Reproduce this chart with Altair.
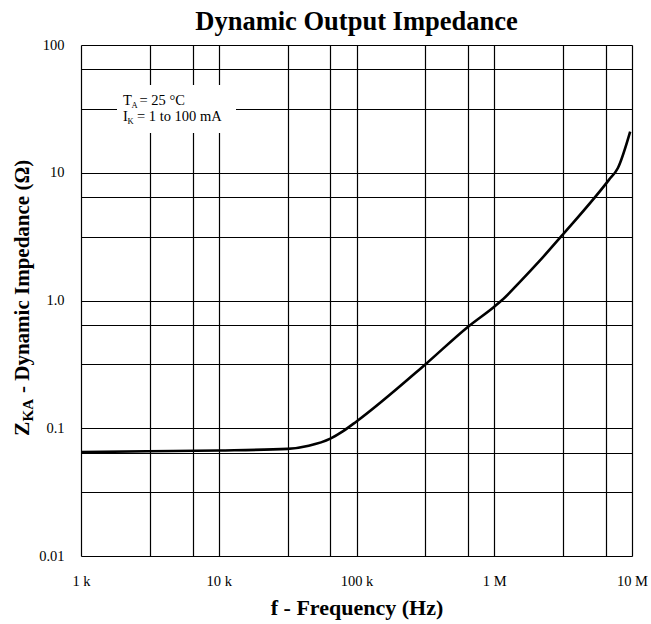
import altair as alt
import pandas as pd

# ---- data ----
freq_hz = [1e3, 3e3, 1e4, 3.16e4, 4.5e4, 6.46e4, 8e4, 1e5, 3.16e5, 6.46e5,
           1.0e6, 1.13e6, 1.58e6, 2.15e6, 3.16e6, 6.8e6, 7.9e6, 9.7e6]
z_ohm = [0.065, 0.066, 0.067, 0.069, 0.073, 0.083, 0.095, 0.113, 0.316, 0.624,
         0.895, 1.0, 1.445, 2.06, 3.3, 8.8, 10.9, 21.0]

x_grid = [1e3, 3162, 6457, 1e4, 31623, 64565, 1e5, 316228, 645654, 1e6, 3162278, 6456542, 1e7]
x_label_vals = [1e3, 1e4, 1e5, 1e6, 1e7]
x_label_text = ["1 k", "10 k", "100 k", "1 M", "10 M"]

y_grid = [0.01, 0.03162, 0.06457, 0.1, 0.3162, 0.6457, 1, 3.162, 6.457, 10, 31.62, 64.57, 100]
y_label_vals = [0.01, 0.1, 1, 10, 100]
y_label_text = ["0.01", "0.1", "1.0", "10", "100"]

title_text = "Dynamic Output Impedance"
x_title = "f - Frequency (Hz)"

SERIF = "Liberation Serif"


def label_expr(vals, texts):
    expr = "''"
    for v, t in reversed(list(zip(vals, texts))):
        expr = f"abs(datum.value - {v}) < {v * 1e-6} ? '{t}' : ({expr})"
    return expr


df = pd.DataFrame({"f": freq_hz, "z": z_ohm})

x_enc = alt.X(
    "f:Q",
    scale=alt.Scale(type="log", domain=[1e3, 1e7], nice=False),
    axis=alt.Axis(
        values=x_grid,
        labelExpr=label_expr(x_label_vals, x_label_text),
        title=x_title,
        titleFont=SERIF,
        titleFontSize=22,
        titleFontWeight="bold",
        titleColor="black",
        titlePadding=10,
        labelFont=SERIF,
        labelFontSize=14.5,
        labelColor="black",
        labelPadding=18,
        labelOverlap=False,
        labelFlush=False,
        ticks=False,
        domain=False,
        grid=True,
        gridColor="black",
        gridWidth=1.2,
        gridOpacity=1,
    ),
)
y_enc = alt.Y(
    "z:Q",
    scale=alt.Scale(type="log", domain=[0.01, 100], nice=False),
    axis=alt.Axis(
        values=y_grid,
        labelExpr=label_expr(y_label_vals, y_label_text),
        title=None,
        labelFont=SERIF,
        labelFontSize=14.5,
        labelColor="black",
        labelPadding=17,
        labelOverlap=False,
        labelFlush=False,
        ticks=False,
        domain=False,
        grid=True,
        gridColor="black",
        gridWidth=1.2,
        gridOpacity=1,
    ),
)

curve = alt.Chart(df).mark_line(
    color="black", strokeWidth=2.6, interpolate="monotone", clip=True
).encode(x=x_enc, y=y_enc)


def txt(s, x, y, size, bold=False, angle=None):
    kw = dict(font=SERIF, fontSize=size, color="black", align="left", baseline="alphabetic")
    if bold:
        kw["fontWeight"] = "bold"
    if angle is not None:
        kw["angle"] = angle
        kw["baseline"] = "middle"
    return alt.Chart(pd.DataFrame({"t": [s]})).mark_text(**kw).encode(
        x=alt.value(x), y=alt.value(y), text="t:N"
    )


box = alt.Chart(pd.DataFrame({"t": ["box"]})).mark_rect(color="white").encode(
    x=alt.value(36), x2=alt.value(155), y=alt.value(40), y2=alt.value(88)
)

notes = [
    txt("T", 42, 60, 14.5),
    txt("A", 50.5, 63, 8.5),
    txt("= 25 °C", 58.5, 60, 14.5),
    txt("I", 42, 76, 14.5),
    txt("K", 46.5, 79, 8.5),
    txt("= 1 to 100 mA", 56, 76, 14.5),
]

ytitle = [
    txt("Z", -58, 391, 21.5, bold=True, angle=270),
    txt("KA", -53, 376.5, 15, bold=True, angle=270),
    txt("- Dynamic Impedance (Ω)", -58, 348, 21, bold=True, angle=270),
]

chart = alt.layer(curve, box, *notes, *ytitle).properties(
    width=551,
    height=511,
    autosize=alt.AutoSizeParams(type="none"),
    padding={"left": 81, "top": 45, "right": 19, "bottom": 68},
    title=alt.TitleParams(
        title_text,
        font=SERIF,
        fontSize=26.5,
        fontWeight="bold",
        color="black",
        anchor="middle",
        frame="group",
        offset=2,
    ),
).configure_view(stroke="black", strokeWidth=3).configure(background="white")

chart.save("out.html", embed_options={"renderer": "svg", "actions": False})
